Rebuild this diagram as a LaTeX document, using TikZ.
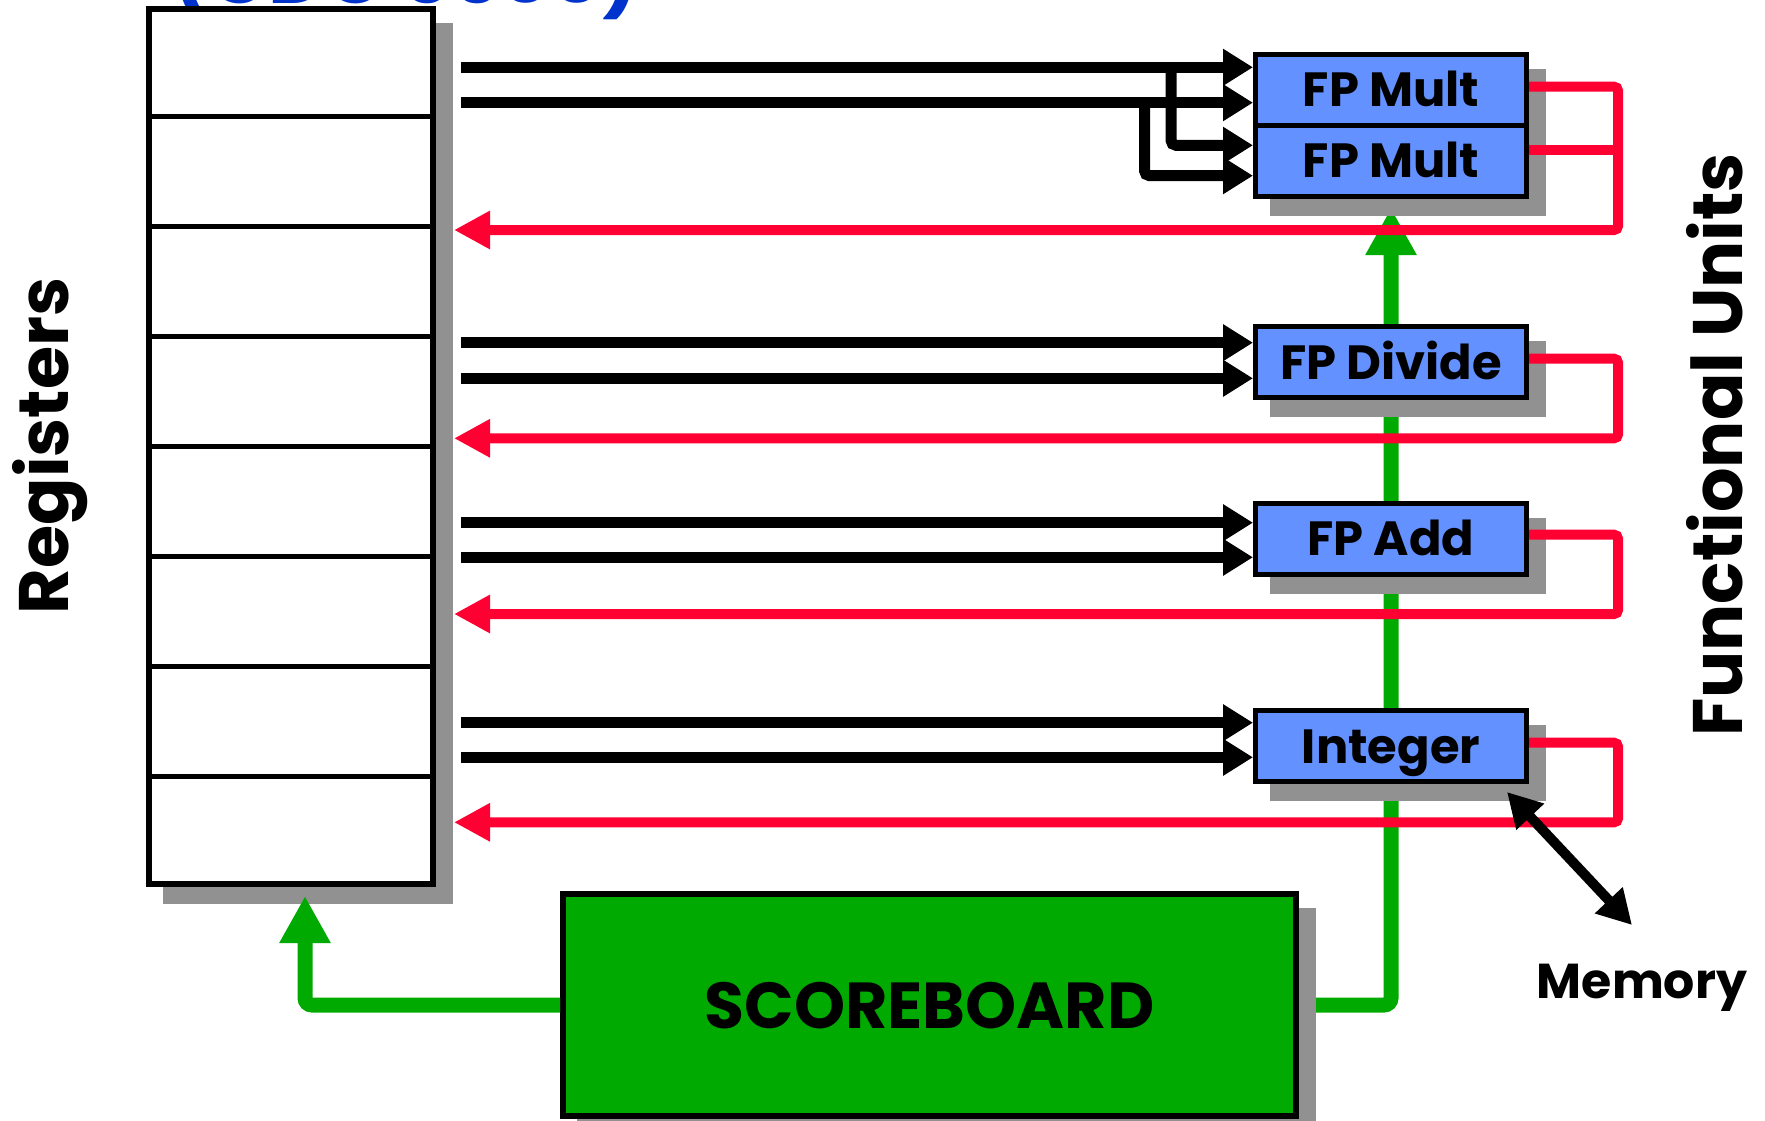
\documentclass[tikz,border=0pt]{standalone}
\usepackage{fontspec}
\setmainfont{Poppins}
\usetikzlibrary{arrows.meta,shadows,calc}
\pgfdeclarelayer{bg}
\pgfsetlayers{bg,main}
\definecolor{fublue}{RGB}{99,145,255}
\definecolor{sbgreen}{RGB}{0,170,0}
\definecolor{sred}{RGB}{255,0,51}
\definecolor{shade}{RGB}{145,145,145}
\definecolor{ttlblue}{RGB}{0,51,204}
\begin{document}
\begin{tikzpicture}[x=1pt,y=-1pt,
  shad/.style={general shadow={fill=shade,draw=shade,shadow xshift=17pt,shadow yshift=-17pt}},
  regbox/.style={shad,draw=black,line width=6pt,fill=white,minimum width=284pt,minimum height=875pt,inner sep=0pt},
  unitbox/.style={shad,draw=black,line width=5pt,fill=fublue,minimum width=271pt,minimum height=71pt,inner sep=0pt,
    font=\fontsize{48}{48}\selectfont\bfseries,text height=34pt,text depth=0pt},
  scorebox/.style={shad,draw=black,line width=6pt,fill=sbgreen,minimum width=733pt,minimum height=222pt,inner sep=0pt,
    font=\fontsize{65}{65}\selectfont\bfseries,text height=46pt,text depth=0pt},
  rowline/.style={line width=5pt,draw=black},
  blk/.style={line width=11pt,draw=black,-{Triangle[length=30pt,width=35pt]}},
  blkbr/.style={blk,rounded corners=5pt},
  redl/.style={line width=10pt,draw=sred,rounded corners=4pt},
  reda/.style={redl,-{Triangle[length=36pt,width=36pt]}},
  grn/.style={line width=15pt,draw=sbgreen,rounded corners=7pt,-{Triangle[length=47pt,width=48pt]}},
  memarrow/.style={line width=10pt,draw=black,{Triangle[length=34pt,width=36pt]}-{Triangle[length=34pt,width=36pt]}},
  biglbl/.style={font=\fontsize{70}{70}\selectfont\bfseries,inner sep=0pt},
  memlbl/.style={font=\fontsize{49}{49}\selectfont\bfseries,inner sep=0pt},
  ttl/.style={font=\fontsize{78}{78}\selectfont\bfseries,text=ttlblue,inner sep=0pt,anchor=base},
]
\useasboundingbox (0,0) rectangle (1765,1121);

% title (cut off at top)
\begin{scope}
\clip (0,0) rectangle (1765,1121);
\node[ttl] (title) at (406,4) {(CDC 6600)};
\end{scope}

% register file
\node[regbox] (reg) at (291,446.5) {};
\foreach \k in {1,...,7}
  \draw[rowline] ($(reg.north west)!\k/8!(reg.south west)$) -- ($(reg.north east)!\k/8!(reg.south east)$);

% functional units
\node[unitbox] (mult1) at (1391,90) {FP Mult};
\node[unitbox] (mult2) at (1391,161) {FP Mult};
\node[unitbox] (div) at (1391,362) {FP Divide};
\node[unitbox] (add) at (1391,538.5) {FP Add};
\node[unitbox] (int) at (1391,746) {Integer};

% scoreboard
\node[scorebox] (score) at (929.5,1005) {SCOREBOARD};

% labels
\node[biglbl,rotate=90] (regl) at (50,446) {Registers};
\node[biglbl,rotate=90] (ful) at (1715,445) {Functional Units};
\node[memlbl] (mem) at (1642,988) {Memory};

% helper coordinates
\coordinate (regout) at ([xshift=18pt]reg.east);
\coordinate (regin) at ([xshift=25pt]reg.east);
\coordinate (redx) at (1618,0);
\coordinate (bx1) at (1171,0);
\coordinate (bx2) at (1144.5,0);
\coordinate (gx2) at (305,0);
\foreach \n/\yy in {m1a/67.3,m1b/102.7,m2a/145.3,m2b/175.7,da/342.7,db/378.3,aa/522.7,ab/557.3,ia/722.7,ib/757.3,
                    m1r/86.7,m2r/150,dr/358.7,ar/534.7,ir/742.7,m1q/230,dq/438.3,aq/614,iq/822.3}
  \coordinate (\n) at (0,\yy);

% green control lines
\begin{pgfonlayer}{bg}
\draw[grn] (score.east) -| ([yshift=-9pt]mult2.south);
\end{pgfonlayer}
\coordinate (gtip) at ([yshift=-9pt]reg.south);
\draw[grn] (score.west) -| (gtip -| gx2);

% result buses (red)
\draw[reda] (mult1.east |- m1r) -- (redx |- m1r) -- (redx |- m1q) -- (regout |- m1q);
\draw[redl] (mult2.east |- m2r) -- (redx |- m2r);
\draw[reda] (div.east |- dr) -- (redx |- dr) -- (redx |- dq) -- (regout |- dq);
\draw[reda] (add.east |- ar) -- (redx |- ar) -- (redx |- aq) -- (regout |- aq);
\draw[reda] (int.east |- ir) -- (redx |- ir) -- (redx |- iq) -- (regout |- iq);

% operand buses (black)
\foreach \u/\a/\b in {mult1/m1a/m1b,div/da/db,add/aa/ab,int/ia/ib} {
  \draw[blk] (regin |- \a) -- (\a -| \u.west);
  \draw[blk] (regin |- \b) -- (\b -| \u.west);
}
\draw[blkbr] (bx1 |- m1a) -- (bx1 |- m2a) -- (m2a -| mult2.west);
\draw[blkbr] (bx2 |- m1b) -- (bx2 |- m2b) -- (m2b -| mult2.west);

% memory connection
\coordinate (memtop) at (1507,792);
\coordinate (membot) at (1632,925);
\draw[memarrow] (memtop) -- (membot);
\end{tikzpicture}
\end{document}
